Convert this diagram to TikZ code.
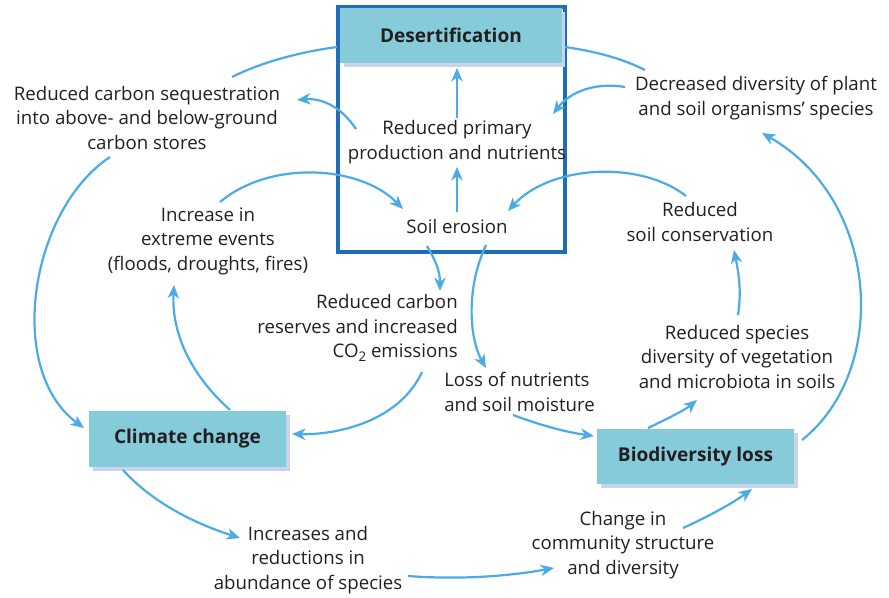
\documentclass[tikz,border=0pt]{standalone}
\usepackage{fontspec}
\setmainfont{Open Sans}
\usetikzlibrary{arrows.meta,calc}
\definecolor{tealfill}{HTML}{86CBDA}
\definecolor{shadowcol}{HTML}{C8D3EE}
\definecolor{arr}{HTML}{4AABE6}
\definecolor{framecol}{HTML}{1F6DB7}
\definecolor{txt}{HTML}{231F20}
\tikzset{
  lbl/.style={inner sep=0pt, align=center, text=txt, font=\fontsize{14}{18.4}\selectfont},
  boxtitle/.style={inner sep=0pt, text=txt, font=\fontsize{14.3}{16}\selectfont\bfseries},
  con/.style={draw=arr, line width=1.65pt},
  arw/.style={con, -{Stealth[length=10pt,width=8.5pt,inset=3pt]}},
}
\begin{document}
\begin{tikzpicture}[x=0.75pt,y=-0.75pt]
\useasboundingbox (0,0) rectangle (889,598);
% frame
\draw[draw=framecol, line width=2.3pt] (338,7) rectangle (565,252);
% boxes with shadows
\fill[fill=shadowcol] (344,12) rectangle (565,67);
\fill[fill=tealfill] (340,8) rectangle (562,63);
\node[boxtitle] (des) at (451,35.5) {Desertification};
\fill[fill=shadowcol] (93,415) rectangle (290,471);
\fill[fill=tealfill] (89,411) rectangle (286,467);
\node[boxtitle] (cc) at (187.5,439) {Climate change};
\fill[fill=shadowcol] (601,433) rectangle (798,488);
\fill[fill=tealfill] (597,429) rectangle (794,484);
\node[boxtitle] (bio) at (695.5,456.5) {Biodiversity loss};
% text nodes
\node[lbl] (rcs) at (147,118) {Reduced carbon sequestration\\into above- and below-ground\\carbon stores};
\node[lbl] (rpp) at (457,142) {Reduced primary\\production and nutrients};
\node[lbl] (ddp) at (756,98) {Decreased diversity of plant\\and soil organisms’ species};
\node[lbl] (iee) at (208,241) {Increase in\\extreme events\\(floods, droughts, fires)};
\node[lbl] (se) at (457,227) {Soil erosion};
\node[lbl] (rsc) at (700,222) {Reduced\\soil conservation};
\node[lbl, align=right, anchor=east] (rcr) at (458,328) {Reduced carbon\\reserves and increased\\CO\raisebox{-0.35ex}{\fontsize{10}{10}\selectfont 2} emissions};
\node[lbl, align=left, anchor=west] (lon) at (444,392) {Loss of nutrients\\and soil moisture};
\node[lbl] (rsd) at (737,357) {Reduced species\\diversity of vegetation\\and microbiota in soils};
\node[lbl] (iar) at (308,560) {Increases and\\reductions in\\abundance of species};
\node[lbl] (cic) at (623,545) {Change in\\community structure\\and diversity};
% connectors
\draw[con] ([shift={(-114,11.5)}]des.center) .. controls (300,52) and (262,62) .. ([shift={(85,-41)}]rcs.center);
\draw[con] ([shift={(114,11.5)}]des.center) .. controls (600,52) and (625,60) .. ([shift={(-111,-28)}]ddp.center);
\draw[arw] ([shift={(0,-24)}]rpp.center) -- ([shift={(6,32.5)}]des.center);
\draw[arw] ([shift={(0,-15)}]se.center) -- ([shift={(0,25)}]rpp.center);
\draw[arw] ([shift={(-101,-13)}]rpp.center) .. controls (340,105) and (320,98) .. ([shift={(150,-18)}]rcs.center);
\draw[arw] ([shift={(-131,-11)}]ddp.center) .. controls (595,82) and (570,92) .. ([shift={(96,-28)}]rpp.center);
\draw[arw] ([shift={(12,-39)}]iee.center) .. controls (270,160) and (360,165) .. ([shift={(-54,-18)}]se.center);
\draw[arw] ([shift={(-14,-26)}]rsc.center) .. controls (640,160) and (550,165) .. ([shift={(51,-16)}]se.center);
\draw[arw] ([shift={(-30,19)}]se.center) .. controls (435,260) and (440,270) .. ([shift={(-18,-37)}]rcr.east);
\draw[arw] ([shift={(29,18)}]se.center) .. controls (465,290) and (470,340) .. ([shift={(42,-24)}]lon.west);
\draw[arw] ([shift={(-36,44)}]rcr.east) .. controls (400,420) and (340,435) .. ([shift={(104.5,-5)}]cc.center);
\draw[arw] ([shift={(42.5,-29)}]cc.center) .. controls (180,365) and (172,320) .. ([shift={(-34,44)}]iee.center);
\draw[arw] ([shift={(-37,39)}]rcs.center) .. controls (30,210) and (5,370) .. ([shift={(-103.5,-11)}]cc.center);
\draw[arw] ([shift={(69,23)}]lon.west) .. controls (540,425) and (565,432) .. ([shift={(-101.5,-20.5)}]bio.center);
\draw[arw] ([shift={(-47.5,-28.5)}]bio.center) .. controls (665,420) and (685,410) .. ([shift={(-40,43)}]rsd.center);
\draw[arw] ([shift={(1,-42)}]rsd.center) .. controls (742,290) and (738,270) .. ([shift={(34,28)}]rsc.center);
\draw[arw] ([shift={(106.5,-16.5)}]bio.center) .. controls (890,370) and (880,200) .. ([shift={(6,35)}]ddp.center);
\draw[arw] ([shift={(-64.5,31)}]cc.center) .. controls (150,500) and (190,522) .. ([shift={(-68,-22)}]iar.center);
\draw[arw] ([shift={(100,16)}]iar.center) .. controls (460,580) and (510,576) .. ([shift={(-69,23)}]cic.center);
\draw[arw] ([shift={(60,-17)}]cic.center) .. controls (705,518) and (730,505) .. ([shift={(56.5,32.5)}]bio.center);
\end{tikzpicture}
\end{document}
